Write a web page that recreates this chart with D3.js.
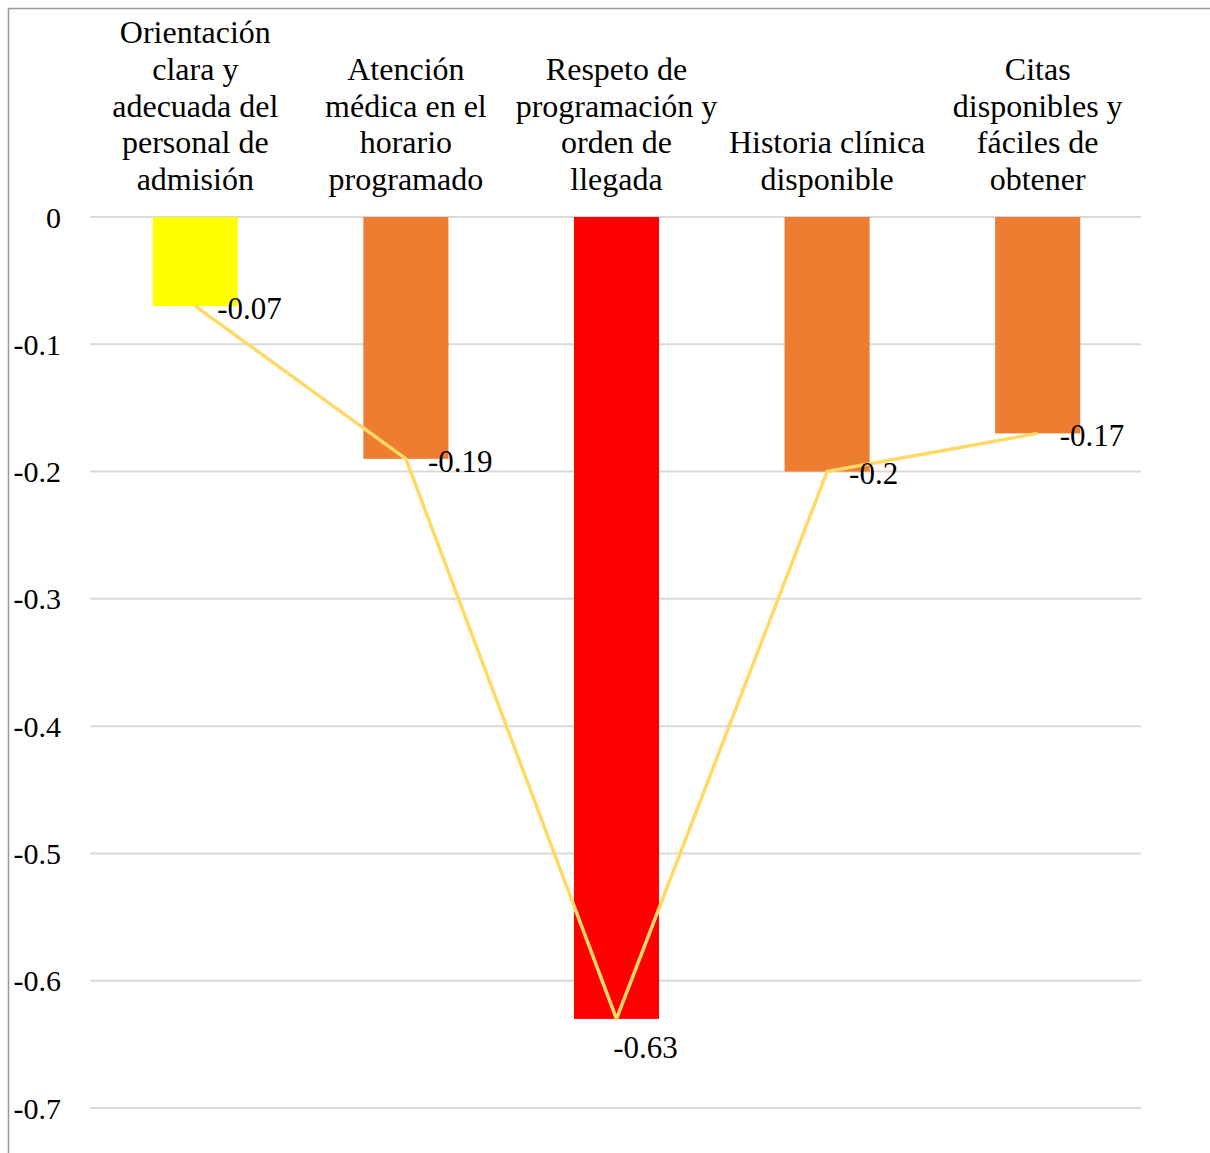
<!DOCTYPE html>
<html>
<head>
<meta charset="utf-8">
<script src="https://cdn.jsdelivr.net/npm/d3@7"></script>
<style>
  body { margin: 0; background: #fff; }
  text { font-family: "Liberation Serif", "Times New Roman", serif; fill: #000; }
</style>
</head>
<body>
<div id="chart"></div>
<script>
// categories (line breaks as in the original chart)
const categories = [
  "Orientación\nclara y\nadecuada del\npersonal de\nadmisión",
  "Atención\nmédica en el\nhorario\nprogramado",
  "Respeto de\nprogramación y\norden de\nllegada",
  "Historia clínica\ndisponible",
  "Citas\ndisponibles y\nfáciles de\nobtener"
]
const values = [-0.07, -0.19, -0.63, -0.2, -0.17]
const barColors = ["#FFFF00", "#ED7D31", "#FF0000", "#ED7D31", "#ED7D31"]
const yTicks = [0, -0.1, -0.2, -0.3, -0.4, -0.5, -0.6, -0.7]

const width = 1210
const height = 1153

const svg = d3.select('#chart').append('svg')
    .attr('width', width).attr('height', height)

// outer frame (left + top only visible)
svg.append('path')
    .attr('d', `M8.5,${height} L8.5,8.5 L${width},8.5`)
    .attr('fill', 'none')
    .attr('stroke', '#9a9a9a')
    .attr('stroke-width', 1.5)

const x = d3.scaleBand()
    .domain(d3.range(categories.length))
    .range([90, 1143])
    .paddingInner(0.596)
    .paddingOuter(0.298)

const y = d3.scaleLinear()
    .domain([-0.7, 0])
    .range([1108, 217])

//gridlines
svg.append('g').selectAll('line')
    .data(yTicks)
    .enter().append('line')
    .attr('x1', 90).attr('x2', 1141)
    .attr('y1', d => y(d)).attr('y2', d => y(d))
    .attr('stroke', '#d9d9d9')
    .attr('stroke-width', 2)

// y tick labels (plain hyphen minus like the original)
const fmt = d => d === 0 ? '0' : d3.format('.1f')(d).replace('\u2212', '-')
svg.append('g').selectAll('text')
    .data(yTicks)
    .enter().append('text')
    .attr('x', 61)
    .attr('y', d => y(d))
    .attr('dy', '0.35em')
    .attr('text-anchor', 'end')
    .style('font-size', '30px')
    .text(fmt)

// bars
svg.append('g').selectAll('rect')
    .data(values)
    .enter().append('rect')
    .attr('x', (d, i) => x(i))
    .attr('y', y(0))
    .attr('width', x.bandwidth())
    .attr('height', d => y(d) - y(0))
    .attr('fill', (d, i) => barColors[i])

// line through the bar ends
const cx = i => x(i) + x.bandwidth() / 2
const line = d3.line()
    .x((d, i) => cx(i))
    .y(d => y(d))

svg.append('path')
    .datum(values)
    .attr('d', line)
    .attr('fill', 'none')
    .attr('stroke', '#FFD966')
    .attr('stroke-width', 3.5)
    .attr('stroke-linejoin', 'round')

// data labels
const lowest = d3.min(values)
svg.append('g').selectAll('text')
    .data(values)
    .enter().append('text')
    .attr('x', (d, i) => d === lowest ? cx(i) + 29 : cx(i) + 22)
    .attr('y', d => d === lowest ? y(d) + 28 : y(d) + 2)
    .attr('dy', '0.35em')
    .attr('text-anchor', d => d === lowest ? 'middle' : 'start')
    .style('font-size', '31px')
    .text(d => String(d))

// category labels, bottom-aligned above the zero line
const lineH = 36.7
const labels = svg.append('g').selectAll('text')
    .data(categories)
    .enter().append('text')
    .attr('text-anchor', 'middle')
    .style('font-size', '32px')

labels.each(function(d, i) {
    const lines = d.split('\n')
    const t = d3.select(this)
    lines.forEach((l, j) => {
        t.append('tspan')
            .attr('x', cx(i))
            .attr('y', 190 - (lines.length - 1 - j) * lineH)
            .text(l)
    })
})
</script>
</body>
</html>
